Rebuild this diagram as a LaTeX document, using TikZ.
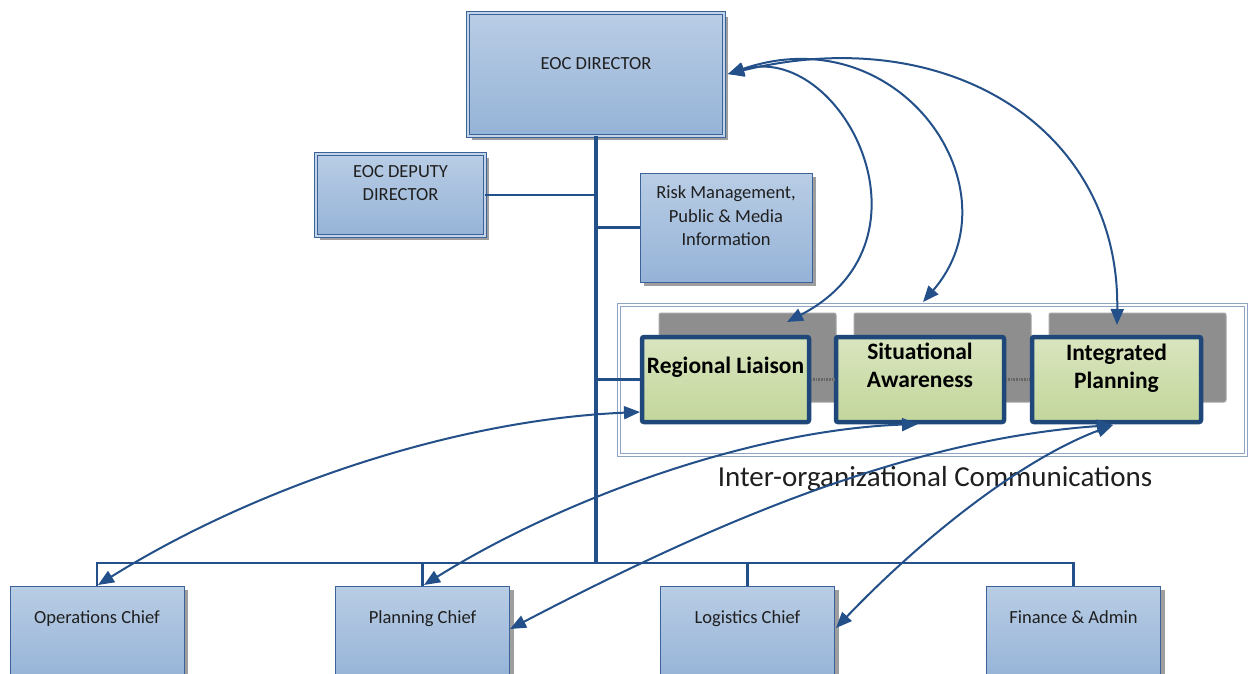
\documentclass[tikz,border=0pt]{standalone}
\usepackage{fontspec}
\setmainfont{Carlito}
\usetikzlibrary{arrows.meta,shadows}

\definecolor{boxtop}{HTML}{B9CDE5}
\definecolor{boxbot}{HTML}{95B3D7}
\definecolor{boxedge}{HTML}{3B639A}
\definecolor{linkblue}{HTML}{24508A}
\definecolor{greentop}{HTML}{D9E5BF}
\definecolor{greenbot}{HTML}{C3D69B}
\definecolor{greenedge}{HTML}{1F477A}
\definecolor{panelgray}{HTML}{8E8E8E}
\definecolor{frameedge}{HTML}{8FA4C2}

\tikzset{
  shade box/.style={top color=boxtop, bottom color=boxbot, inner sep=0pt,
    drop shadow={shadow xshift=4pt, shadow yshift=-4pt, fill=black!38, opacity=1}},
  doublebox/.style={shade box, draw=boxedge, line width=0.9pt,
    double=boxtop!85!white, double distance=2.5pt},
  singlebox/.style={shade box, draw=boxedge, line width=1pt},
  chiefbox/.style={singlebox, minimum width=174, minimum height=94},
  boxtext/.style={font=\fontsize{18.5}{23.5}\selectfont, text=black!88, align=center, inner sep=0pt},
  chieftext/.style={boxtext, anchor=base},
  panel/.style={fill=panelgray, draw=black!35, line width=1pt, rounded corners=2pt,
    minimum width=177, minimum height=89, inner sep=0pt},
  greenbox/.style={top color=greentop, bottom color=greenbot, draw=greenedge,
    line width=4.5pt, rounded corners=2pt, minimum height=85, inner sep=0pt},
  greentext/.style={font=\bfseries\fontsize{23.5}{28.5}\selectfont, text=black, align=center, inner sep=0pt},
  frame/.style={draw=frameedge, line width=0.7pt, double=white, double distance=2.5pt,
    minimum width=627, minimum height=150, inner sep=0pt},
  trunk/.style={draw=linkblue, line width=3.2pt},
  branch/.style={draw=linkblue, line width=2.4pt},
  greylink/.style={draw=black!60, line width=2.5pt, dash pattern=on 1pt off 0.6pt},
  twoway/.style={draw=linkblue, line width=2pt,
    {Triangle[length=16pt,width=13pt]}-{Triangle[length=16pt,width=13pt]}}
}

\begin{document}
\begin{tikzpicture}[x=1pt,y=-1pt]
\clip (0,0) rectangle (1251,673);
\fill[white] (0,0) rectangle (1251,673);

% command staff
\node[doublebox, minimum width=256, minimum height=123] (dir) at (596,74.5) {};
\node[boxtext] (dirT) at (596,64) {EOC DIRECTOR};
\node[doublebox, minimum width=169, minimum height=82] (dep) at (400.5,195) {};
\node[boxtext] (depT) at (400.5,183) {EOC DEPUTY\\DIRECTOR};
\node[singlebox, minimum width=172, minimum height=109] (risk) at (726,227.5) {};
\node[boxtext] (riskT) at (726,216) {Risk Management,\\Public \& Media\\Information};

% inter-organizational communications group
\node[frame] (grp) at (932.5,380) {};
\node[panel] (p1) at (747.5,357.5) {};
\node[panel] (p2) at (942.5,357.5) {};
\node[panel] (p3) at (1137.5,357.5) {};
\node[greenbox, minimum width=167] (rl) at (725.5,379.5) {};
\node[greenbox, minimum width=168] (sa) at (920,379.5) {};
\node[greenbox, minimum width=169] (ip) at (1116.5,379.5) {};
\node[greentext] (rlT) at (725.5,367) {Regional Liaison};
\node[greentext] (saT) at (920,365.5) {Situational\\Awareness};
\node[greentext] (ipT) at (1116.5,368) {Integrated\\Planning};
\draw[greylink] (rl.east) -- (sa.west);
\draw[greylink] (sa.east) -- (ip.west);
\node[font=\fontsize{29}{34}\selectfont, text=black!88, inner sep=0pt] (grpT) at (935,479)
  {Inter-organizational Communications};

% general staff
\node[chiefbox] (ops) at (97,633) {};
\node[chiefbox] (pln) at (422.5,633) {};
\node[chiefbox] (log) at (747.5,633) {};
\node[chiefbox] (fin) at (1073.5,633) {};
\node[chieftext] (opsT) at (97,623) {Operations Chief};
\node[chieftext] (plnT) at (422.5,623) {Planning Chief};
\node[chieftext] (logT) at (747.5,623) {Logistics Chief};
\node[chieftext] (finT) at (1073.5,623) {Finance \& Admin};

% reporting lines
\coordinate (hub) at (596,563);
\draw[trunk] (dir.south) -- (hub);
\draw[branch] (dep.east) -- (dep.east -| hub);
\draw[branch] (risk.west) -- (risk.west -| hub);
\draw[branch] (rl.west) -- (rl.west -| hub);
\draw[branch] (ops.north) -- (ops.north |- hub) -- (fin.north |- hub) -- (fin.north);
\draw[branch] (pln.north) -- (pln.north |- hub);
\draw[branch] (log.north) -- (log.north |- hub);

% two-way communication arcs
\coordinate (dirR) at (728,74);
\coordinate (rlTop) at (787,322);
\coordinate (grpTop) at (923,302);
\coordinate (ipTop) at (1117,325);
\draw[twoway] (dirR) .. controls (840,40) and (945,240) .. (rlTop);
\draw[twoway] (dirR) .. controls (900,15) and (1020,190) .. (grpTop);
\draw[twoway] (dirR) .. controls (950,20) and (1120,130) .. (ipTop);

\coordinate (opsTop) at (98,585);
\coordinate (rlLeft) at (640,412);
\coordinate (plnTop) at (424,585);
\coordinate (saBot) at (918,424);
\coordinate (plnRight) at (510,629);
\coordinate (ipBot) at (1113,425);
\coordinate (logRight) at (836,628);
\draw[twoway] (opsTop) .. controls (250,490) and (450,420) .. (rlLeft);
\draw[twoway] (plnTop) .. controls (560,500) and (750,430) .. (saBot);
\draw[twoway] (plnRight) .. controls (700,530) and (900,440) .. (ipBot);
\draw[twoway] (logRight) .. controls (920,540) and (1020,460) .. (ipBot);
\end{tikzpicture}
\end{document}
